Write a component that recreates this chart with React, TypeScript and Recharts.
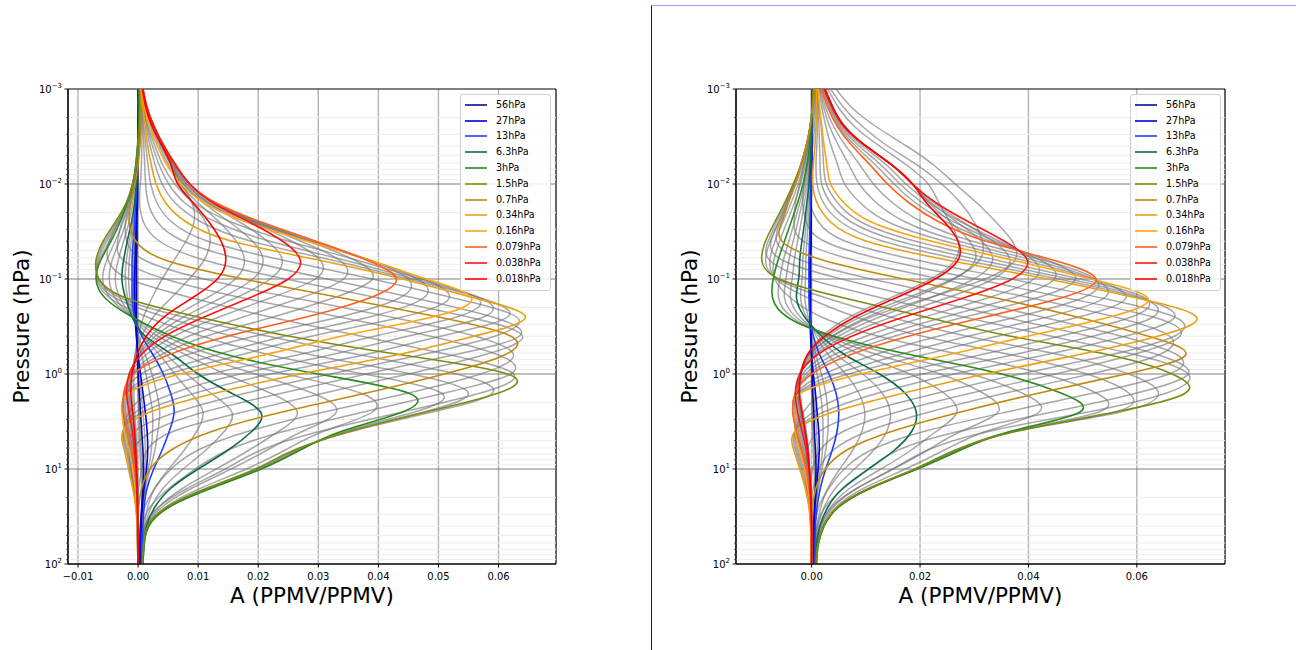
import React from 'react';
import { LineChart, Line, XAxis, YAxis, CartesianGrid, ReferenceLine, ReferenceArea } from 'recharts';

// pressure levels (hPa), 0.2-decade steps from 1e-3 to 1e2
const PRESSURE_LEVELS = [0.001, 0.001585, 0.002512, 0.003981, 0.00631, 0.01, 0.01585, 0.02512, 0.03981, 0.0631, 0.1, 0.1585, 0.2512, 0.3981, 0.631, 1, 1.585, 2.512, 3.981, 6.31, 10, 15.85, 25.12, 39.81, 63.1, 100];
const MAJOR_PRESSURE_TICKS = [0.001, 0.01, 0.1, 1, 10, 100];
const MAJOR_TICK_EXPONENTS = ['\u22123', '\u22122', '\u22121', '0', '1', '2'];
const MINOR_MULTIPLIERS = [2, 3, 4, 5, 6, 7, 8, 9];

const LEFT_X_TICKS = [-0.01, 0, 0.01, 0.02, 0.03, 0.04, 0.05, 0.06];
const RIGHT_X_TICKS = [0, 0.02, 0.04, 0.06];
const LEFT_X_DOMAIN = [-0.01167, 0.06957];
const RIGHT_X_DOMAIN = [-0.01396, 0.07627];

const LEGEND_LABELS = ['56hPa', '27hPa', '13hPa', '6.3hPa', '3hPa', '1.5hPa', '0.7hPa', '0.34hPa', '0.16hPa', '0.079hPa', '0.038hPa', '0.018hPa'];
const LEGEND_COLORS = ['#0a0a9a', '#0000e0', '#2040f8', '#0c6b4f', '#2a8c1e', '#7f8a10', '#bf8a10', '#e8a010', '#ffa510', '#ff6020', '#ff1515', '#ff0000'];

// ---- left panel: highlighted kernels, values in units of 1e-3 PPMV/PPMV, one per pressure level ----
const L_56 = [0.0, 0.0, 0.0, 0.0, -0.1, -0.1, -0.1, -0.2, -0.2, -0.3, -0.3, -0.3, -0.3, -0.2, -0.1, 0.0, 0.2, 0.4, 0.6, 0.8, 0.9, 0.8, 0.6, 0.4, 0.3, 0.2];
const L_27 = [0.1, 0.1, 0.0, 0.0, -0.1, -0.1, -0.2, -0.3, -0.4, -0.5, -0.6, -0.6, -0.5, -0.3, 0.0, 0.4, 0.8, 1.2, 1.5, 1.6, 1.4, 1.0, 0.7, 0.5, 0.4, 0.3];
const L_13 = [0.1, 0.1, 0.1, 0.0, -0.1, -0.2, -0.4, -0.6, -0.8, -1.0, -1.0, -1.0, -0.6, 0.6, 2.5, 4.2, 5.4, 6.0, 5.2, 4.0, 2.6, 1.5, 1.0, 0.8, 0.7, 0.6];
const L_6p3 = [0.1, 0.1, 0.1, 0.0, -0.1, -0.3, -0.6, -1.1, -1.8, -2.4, -2.7, -2.1, -1.0, 1.2, 5.8, 10.0, 15.5, 20.4, 19.0, 15.0, 10.0, 5.5, 2.8, 1.4, 0.9, 0.7];
const L_3 = [0.2, 0.2, 0.1, -0.1, -0.4, -0.9, -1.8, -3.0, -4.5, -6.2, -7.0, -5.5, -1.0, 5.5, 15.0, 30.0, 45.0, 44.0, 34.0, 27.0, 20.5, 12.3, 5.2, 1.8, 1.0, 0.8];
const L_1p5 = [0.3, 0.3, 0.2, 0.0, -0.3, -0.9, -2.0, -3.8, -5.8, -7.0, -6.5, -2.0, 10.0, 25.0, 44.0, 61.5, 60.0, 48.0, 35.5, 26.0, 19.5, 11.5, 4.8, 1.6, 0.9, 0.7];
const L_0p7 = [0.4, 0.5, 0.5, 0.3, 0.0, -0.5, -1.2, -1.5, -0.4, 4.5, 17.5, 34.0, 50.0, 62.0, 61.0, 51.0, 38.0, 24.0, 12.5, 5.5, 2.0, 0.6, 0.1, -0.1, -0.1, 0.0];
const L_0p34 = [0.5, 0.8, 1.2, 1.6, 2.2, 3.0, 4.6, 8.0, 15.5, 30.0, 44.0, 56.0, 64.5, 56.0, 43.0, 27.0, 13.0, 2.0, -2.5, -2.3, -1.6, -0.9, -0.4, -0.15, -0.05, 0.0];
const L_0p16 = [0.6, 1.1, 1.9, 3.2, 4.8, 7.2, 11.0, 18.0, 28.0, 38.5, 48.0, 55.5, 49.0, 34.0, 21.0, 7.0, -1.5, -2.7, -2.3, -1.5, -0.9, -0.5, -0.25, -0.1, 0.0, 0.0];
const L_0p079 = [0.8, 1.5, 2.7, 4.3, 6.3, 8.6, 13.0, 20.5, 29.5, 38.0, 43.0, 38.5, 28.0, 15.0, 5.0, -0.8, -2.4, -2.4, -1.7, -1.0, -0.55, -0.3, -0.15, -0.05, 0.0, 0.0];
const L_0p038 = [0.8, 1.5, 2.7, 4.3, 6.2, 8.6, 12.5, 18.5, 24.0, 27.0, 25.0, 18.5, 11.0, 4.5, 0.5, -1.5, -1.9, -1.5, -1.0, -0.6, -0.35, -0.2, -0.1, -0.05, 0.0, 0.0];
const L_0p018 = [0.7, 1.3, 2.4, 4.0, 5.5, 6.6, 9.2, 11.8, 13.8, 14.6, 13.2, 9.0, 4.3, 1.4, -0.2, -1.0, -1.2, -0.9, -0.6, -0.4, -0.25, -0.15, -0.1, -0.05, 0.0, 0.0];

// ---- left panel: remaining kernels (grey), top to bottom ----
const LG_A1 = [0.7, 1.3, 2.4, 3.9, 5.5, 7.2, 9.0, 9.3, 8.0, 6.0, 4.0, 2.3, 0.9, 0.0, -0.5, -0.7, -0.7, -0.55, -0.35, -0.2, -0.12, -0.06, -0.03, 0.0, 0.0, 0.0];
const LG_A2 = [0.7, 1.3, 2.4, 4.0, 5.5, 6.8, 9.0, 11.2, 12.0, 11.0, 8.5, 5.5, 2.5, 0.6, -0.5, -1.0, -1.0, -0.8, -0.5, -0.3, -0.2, -0.1, -0.05, 0.0, 0.0, 0.0];
const LG_B1 = [0.72, 1.35, 2.5, 4.1, 5.7, 7.1, 10.0, 13.5, 16.3, 17.7, 16.2, 11.4, 5.9, 2.2, 0.0, -1.1, -1.4, -1.05, -0.7, -0.45, -0.28, -0.16, -0.1, -0.05, 0.0, 0.0];
const LG_B2 = [0.75, 1.4, 2.55, 4.15, 5.85, 7.6, 10.9, 15.2, 19.0, 20.8, 19.1, 13.8, 7.6, 2.9, 0.15, -1.25, -1.55, -1.2, -0.8, -0.5, -0.3, -0.18, -0.1, -0.05, 0.0, 0.0];
const LG_B3 = [0.78, 1.45, 2.6, 4.2, 6.0, 8.1, 11.7, 16.9, 21.5, 24.0, 22.0, 16.2, 9.3, 3.7, 0.3, -1.4, -1.7, -1.35, -0.9, -0.55, -0.32, -0.19, -0.1, -0.05, 0.0, 0.0];
const LG_C1 = [0.8, 1.5, 2.7, 4.3, 6.2, 8.6, 12.6, 19.0, 25.5, 30.3, 29.5, 22.0, 13.5, 6.0, 1.3, -1.3, -2.0, -1.7, -1.2, -0.7, -0.4, -0.22, -0.12, -0.05, 0.0, 0.0];
const LG_C2 = [0.8, 1.5, 2.7, 4.3, 6.25, 8.6, 12.8, 19.5, 27.0, 33.5, 34.2, 27.0, 17.5, 8.5, 2.5, -1.1, -2.15, -2.0, -1.4, -0.8, -0.45, -0.25, -0.13, -0.05, 0.0, 0.0];
const LG_C3 = [0.8, 1.5, 2.7, 4.3, 6.3, 8.6, 12.9, 20.0, 28.3, 36.0, 39.0, 32.5, 22.5, 11.5, 3.7, -0.9, -2.3, -2.2, -1.55, -0.9, -0.5, -0.28, -0.14, -0.05, 0.0, 0.0];
const LG_D1 = [0.75, 1.4, 2.5, 4.0, 5.9, 8.2, 12.5, 19.8, 29.3, 38.5, 45.0, 43.5, 33.5, 19.5, 8.0, 0.5, -2.2, -2.5, -1.85, -1.1, -0.63, -0.35, -0.17, -0.06, 0.0, 0.0];
const LG_D2 = [0.7, 1.3, 2.3, 3.75, 5.5, 7.9, 12.0, 19.3, 28.8, 38.3, 46.5, 47.5, 38.5, 24.5, 13.0, 3.1, -2.0, -2.55, -2.0, -1.25, -0.72, -0.4, -0.2, -0.08, 0.0, 0.0];
const LG_D3 = [0.65, 1.2, 2.1, 3.5, 5.1, 7.5, 11.5, 18.7, 28.4, 38.4, 47.5, 51.8, 44.0, 29.0, 17.0, 5.0, -1.75, -2.6, -2.15, -1.4, -0.8, -0.45, -0.22, -0.09, 0.0, 0.0];
const LG_E1 = [0.58, 1.0, 1.7, 2.8, 4.1, 6.1, 9.4, 15.5, 24.9, 36.4, 47.0, 56.5, 53.0, 39.5, 26.5, 12.0, 2.1, -1.5, -2.4, -1.7, -1.1, -0.6, -0.3, -0.11, -0.02, 0.0];
const LG_E2 = [0.55, 0.95, 1.55, 2.4, 3.5, 5.1, 7.8, 13.0, 21.8, 34.3, 46.0, 57.0, 57.5, 45.0, 32.0, 17.0, 6.0, -0.4, -2.5, -1.9, -1.25, -0.7, -0.32, -0.12, -0.03, 0.0];
const LG_E3 = [0.52, 0.88, 1.38, 2.0, 2.85, 4.0, 6.2, 10.5, 18.7, 32.2, 45.0, 57.0, 61.5, 50.5, 37.5, 22.0, 9.5, 0.8, -2.5, -2.1, -1.4, -0.8, -0.35, -0.13, -0.04, 0.0];
const LG_F1 = [0.48, 0.72, 1.0, 1.28, 1.65, 2.1, 3.15, 5.6, 11.5, 24.0, 39.0, 52.5, 63.0, 59.5, 47.0, 32.0, 18.0, 6.5, -0.5, -1.5, -1.2, -0.7, -0.3, -0.14, -0.06, 0.0];
const LG_F2 = [0.45, 0.65, 0.85, 0.95, 1.1, 1.25, 1.7, 3.2, 7.5, 17.5, 31.5, 46.0, 59.0, 63.5, 52.5, 38.0, 24.0, 11.0, 2.5, -0.8, -0.6, -0.3, -0.15, -0.12, -0.08, 0.0];
const LG_F3 = [0.42, 0.58, 0.68, 0.63, 0.55, 0.38, 0.25, 0.9, 3.5, 11.0, 24.5, 40.0, 55.0, 64.0, 57.5, 45.0, 31.0, 17.5, 6.0, 1.5, 0.6, 0.1, 0.0, -0.1, -0.1, 0.0];
const LG_G1 = [0.38, 0.45, 0.43, 0.23, -0.08, -0.6, -1.4, -2.1, -1.9, 1.0, 11.0, 26.0, 42.0, 56.0, 62.5, 57.0, 45.0, 31.0, 18.5, 10.0, 5.5, 2.8, 1.1, 0.35, 0.2, 0.15];
const LG_G2 = [0.35, 0.4, 0.35, 0.15, -0.15, -0.7, -1.6, -2.7, -3.4, -2.5, 4.5, 17.5, 33.5, 48.5, 60.0, 62.0, 51.0, 37.5, 24.5, 15.0, 9.5, 5.2, 2.0, 0.7, 0.4, 0.3];
const LG_G3 = [0.32, 0.35, 0.28, 0.08, -0.22, -0.8, -1.8, -3.3, -4.8, -5.0, -1.5, 9.0, 22.0, 37.0, 52.0, 62.5, 57.0, 44.0, 30.5, 20.5, 14.5, 8.3, 3.4, 1.1, 0.6, 0.5];
const LG_H1 = [0.28, 0.27, 0.18, -0.02, -0.32, -0.9, -1.95, -3.6, -5.5, -6.8, -6.6, -2.9, 7.5, 21.5, 37.0, 53.0, 59.0, 49.0, 35.8, 26.2, 19.8, 11.7, 4.9, 1.65, 0.93, 0.73];
const LG_H2 = [0.25, 0.25, 0.15, -0.05, -0.35, -0.9, -1.9, -3.4, -5.2, -6.6, -6.75, -3.8, 4.5, 15.5, 29.0, 45.5, 55.0, 47.5, 35.0, 26.5, 20.0, 11.9, 5.0, 1.7, 0.95, 0.75];
const LG_H3 = [0.22, 0.22, 0.12, -0.08, -0.38, -0.9, -1.85, -3.2, -4.8, -6.4, -6.9, -4.7, 1.5, 10.5, 22.0, 37.5, 50.5, 46.0, 34.5, 26.8, 20.3, 12.1, 5.1, 1.75, 0.98, 0.78];
const LG_I1 = [0.18, 0.18, 0.1, -0.08, -0.33, -0.75, -1.5, -2.5, -3.8, -5.2, -5.9, -4.6, -1.0, 4.5, 12.5, 24.5, 37.0, 39.0, 31.0, 24.5, 18.0, 10.5, 4.6, 1.7, 1.0, 0.8];
const LG_I2 = [0.15, 0.15, 0.1, -0.05, -0.25, -0.6, -1.2, -2.0, -3.1, -4.3, -4.8, -3.8, -1.0, 3.2, 10.0, 19.5, 29.0, 33.0, 27.5, 21.5, 15.5, 9.0, 4.0, 1.6, 0.95, 0.75];
const LG_I3 = [0.12, 0.12, 0.1, -0.02, -0.18, -0.45, -0.9, -1.5, -2.4, -3.3, -3.8, -3.0, -1.0, 2.2, 8.0, 14.5, 22.0, 26.5, 23.5, 18.5, 13.0, 7.5, 3.5, 1.5, 0.9, 0.72];
const LG_J1 = [0.1, 0.1, 0.1, 0.0, -0.1, -0.27, -0.53, -0.93, -1.47, -1.93, -2.13, -1.73, -0.87, 1.0, 4.7, 8.1, 12.1, 15.6, 14.4, 11.3, 7.5, 4.2, 2.2, 1.2, 0.83, 0.67];
const LG_J2 = [0.1, 0.1, 0.1, 0.0, -0.1, -0.23, -0.47, -0.77, -1.13, -1.47, -1.57, -1.37, -0.73, 0.8, 3.6, 6.1, 8.8, 10.8, 9.8, 7.7, 5.1, 2.8, 1.6, 1.0, 0.77, 0.63];
const LG_K1 = [0.1, 0.1, 0.05, 0.0, -0.1, -0.15, -0.3, -0.45, -0.6, -0.75, -0.8, -0.8, -0.55, 0.1, 1.2, 2.3, 3.1, 3.6, 3.3, 2.8, 2.0, 1.25, 0.85, 0.65, 0.55, 0.45];
const LG_K2 = [0.1, 0.1, 0.03, 0.0, -0.1, -0.12, -0.25, -0.38, -0.5, -0.62, -0.7, -0.7, -0.52, -0.1, 0.6, 1.3, 1.9, 2.4, 2.4, 2.2, 1.7, 1.1, 0.78, 0.58, 0.48, 0.38];
const LG_L1 = [0.05, 0.05, 0.0, 0.0, -0.1, -0.1, -0.15, -0.25, -0.3, -0.4, -0.45, -0.45, -0.4, -0.25, -0.05, 0.2, 0.5, 0.8, 1.05, 1.2, 1.15, 0.9, 0.65, 0.45, 0.35, 0.25];
const LG_M1 = [0.0, 0.0, 0.0, 0.0, -0.05, -0.1, -0.1, -0.15, -0.15, -0.2, -0.2, -0.2, -0.2, -0.15, -0.1, -0.05, 0.05, 0.2, 0.35, 0.5, 0.65, 0.75, 0.65, 0.45, 0.3, 0.2];
const LG_M2 = [0.0, 0.0, 0.0, 0.0, 0.0, -0.05, -0.05, -0.1, -0.1, -0.15, -0.15, -0.15, -0.15, -0.1, -0.1, -0.05, 0.0, 0.1, 0.2, 0.3, 0.45, 0.55, 0.6, 0.5, 0.35, 0.25];

// ---- right panel: highlighted kernels ----
const R_56 = [0.0, 0.0, 0.0, 0.0, 0.0, 0.0, -0.1, -0.1, -0.1, -0.2, -0.2, -0.2, -0.2, -0.1, 0.0, 0.1, 0.2, 0.4, 0.5, 0.7, 0.8, 0.7, 0.5, 0.4, 0.3, 0.2];
const R_27 = [0.1, 0.1, 0.0, 0.0, 0.0, -0.1, -0.1, -0.2, -0.2, -0.3, -0.3, -0.3, -0.3, -0.2, 0.0, 0.3, 0.7, 1.0, 1.3, 1.4, 1.2, 0.9, 0.6, 0.5, 0.4, 0.3];
const R_13 = [0.1, 0.1, 0.0, 0.0, -0.1, -0.1, -0.2, -0.3, -0.4, -0.5, -0.5, -0.5, -0.3, 0.3, 1.5, 3.2, 4.5, 5.0, 4.7, 3.8, 2.6, 1.6, 1.0, 0.7, 0.6, 0.5];
const R_6p3 = [0.1, 0.1, 0.0, -0.1, -0.3, -0.5, -0.9, -1.3, -1.8, -2.2, -2.4, -2.8, -1.3, 1.8, 6.2, 12.5, 17.2, 19.3, 18.5, 15.3, 10.5, 5.8, 3.0, 1.5, 0.9, 0.7];
const R_3 = [0.2, 0.1, -0.1, -0.4, -0.9, -1.6, -2.6, -3.8, -5.0, -6.2, -7.1, -7.2, -4.5, 4.0, 18.5, 35.0, 46.0, 49.5, 37.0, 27.5, 19.5, 11.0, 5.0, 2.3, 1.2, 0.9];
const R_1p5 = [0.3, 0.1, -0.3, -1.0, -2.0, -3.4, -5.0, -6.8, -8.5, -9.2, -6.0, 6.0, 21.0, 36.5, 55.0, 66.5, 69.0, 56.0, 38.0, 26.5, 19.0, 10.7, 4.8, 2.2, 1.1, 0.8];
const R_0p7 = [0.6, 0.2, -0.3, -1.0, -2.0, -3.0, -4.3, -5.5, -5.5, 2.0, 17.0, 34.0, 49.0, 62.0, 69.0, 58.0, 42.0, 27.5, 15.0, 6.5, 2.5, 0.8, 0.2, 0.0, 0.0, 0.0];
const R_0p34 = [0.9, 0.9, 0.8, 0.6, 0.3, 0.2, 1.0, 3.5, 10.0, 25.0, 43.5, 60.0, 71.0, 64.0, 49.0, 32.0, 17.0, 4.0, -3.0, -3.3, -2.2, -1.2, -0.5, -0.2, -0.1, 0.0];
const R_0p16 = [1.2, 1.5, 1.9, 2.3, 2.8, 3.5, 6.0, 11.0, 22.0, 37.0, 51.5, 62.0, 55.0, 40.0, 25.0, 9.0, -2.0, -3.3, -3.0, -2.2, -1.3, -0.7, -0.3, -0.1, 0.0, 0.0];
const R_0p079 = [1.8, 3.0, 4.8, 7.5, 10.8, 14.0, 18.0, 23.5, 32.0, 44.5, 52.5, 46.0, 32.0, 18.0, 7.0, 0.0, -3.0, -3.5, -2.8, -1.8, -1.0, -0.5, -0.2, -0.1, 0.0, 0.0];
const R_0p038 = [2.3, 3.8, 6.0, 10.0, 14.8, 18.6, 23.0, 29.0, 35.5, 39.8, 37.0, 28.0, 17.0, 7.5, 1.0, -2.2, -3.0, -2.6, -1.8, -1.0, -0.5, -0.25, -0.1, 0.0, 0.0, 0.0];
const R_0p018 = [2.5, 4.0, 6.2, 10.0, 14.8, 18.6, 21.2, 24.5, 27.0, 27.0, 22.8, 15.5, 8.0, 2.5, -0.8, -2.0, -2.3, -1.8, -1.2, -0.7, -0.4, -0.2, -0.1, 0.0, 0.0, 0.0];

// ---- right panel: remaining kernels (grey), top to bottom ----
const RG_A1 = [4.5, 7.5, 12.0, 17.5, 22.5, 26.5, 30.5, 34.0, 37.0, 37.5, 32.0, 21.5, 11.0, 4.0, -0.5, -2.2, -2.6, -2.0, -1.3, -0.8, -0.45, -0.2, -0.1, 0.0, 0.0, 0.0];
const RG_A2 = [3.5, 6.0, 9.5, 14.0, 19.5, 24.0, 27.5, 30.0, 31.5, 31.0, 26.0, 17.5, 9.0, 3.0, -0.6, -2.0, -2.3, -1.8, -1.2, -0.7, -0.4, -0.2, -0.1, 0.0, 0.0, 0.0];
const RG_A3 = [3.0, 5.0, 8.0, 12.5, 17.5, 21.5, 23.5, 25.5, 27.0, 26.5, 22.0, 14.5, 7.0, 2.0, -0.8, -1.9, -2.1, -1.6, -1.0, -0.6, -0.35, -0.15, -0.05, 0.0, 0.0, 0.0];
const RG_B1 = [2.45, 3.95, 6.15, 10.0, 14.8, 18.6, 21.7, 25.6, 29.1, 30.2, 26.3, 18.6, 10.3, 3.8, -0.35, -2.05, -2.5, -2.0, -1.35, -0.8, -0.43, -0.21, -0.1, 0.0, 0.0, 0.0];
const RG_B2 = [2.4, 3.9, 6.1, 10.0, 14.8, 18.6, 22.1, 26.8, 31.3, 33.4, 29.9, 21.8, 12.5, 5.0, 0.1, -2.1, -2.65, -2.2, -1.5, -0.85, -0.45, -0.23, -0.1, 0.0, 0.0, 0.0];
const RG_B3 = [2.35, 3.85, 6.05, 10.0, 14.8, 18.6, 22.6, 27.9, 33.4, 36.6, 33.5, 24.9, 14.8, 6.3, 0.55, -2.15, -2.85, -2.4, -1.65, -0.95, -0.48, -0.24, -0.1, 0.0, 0.0, 0.0];
const RG_C1 = [2.2, 3.6, 5.7, 9.4, 13.8, 17.4, 21.8, 27.6, 34.6, 40.9, 41.0, 32.5, 20.8, 10.1, 2.5, -1.65, -3.0, -2.8, -2.05, -1.2, -0.63, -0.31, -0.13, 0.0, 0.0, 0.0];
const RG_C2 = [2.05, 3.4, 5.4, 8.75, 12.8, 16.3, 20.5, 26.3, 33.8, 42.2, 44.8, 37.0, 24.5, 12.8, 4.0, -1.1, -3.0, -3.05, -2.3, -1.4, -0.75, -0.38, -0.15, -0.05, 0.0, 0.0];
const RG_C3 = [1.9, 3.2, 5.1, 8.1, 11.8, 15.2, 19.2, 24.9, 32.9, 43.3, 48.7, 41.5, 28.2, 15.4, 5.5, -0.55, -3.0, -3.3, -2.55, -1.6, -0.88, -0.44, -0.18, -0.08, 0.0, 0.0];
const RG_D1 = [1.65, 2.6, 4.1, 6.3, 8.9, 11.4, 15.0, 20.4, 29.5, 42.6, 52.3, 50.0, 37.8, 23.5, 11.5, 2.3, -2.75, -3.45, -2.85, -1.9, -1.08, -0.55, -0.23, -0.1, 0.0, 0.0];
const RG_D2 = [1.5, 2.25, 3.35, 5.0, 6.9, 8.8, 12.0, 17.3, 27.0, 40.8, 52.0, 54.0, 43.5, 29.0, 16.0, 4.5, -2.5, -3.4, -2.9, -2.0, -1.15, -0.6, -0.25, -0.1, 0.0, 0.0];
const RG_D3 = [1.35, 1.9, 2.65, 3.6, 4.8, 6.1, 9.0, 14.1, 24.5, 38.9, 51.8, 58.0, 49.3, 34.5, 20.5, 6.8, -2.25, -3.35, -2.95, -2.1, -1.23, -0.65, -0.28, -0.1, 0.0, 0.0];
const RG_E1 = [1.1, 1.35, 1.75, 2.0, 2.2, 2.7, 4.8, 9.1, 19.0, 34.0, 49.5, 61.5, 59.0, 46.0, 31.0, 14.8, 2.8, -1.5, -3.0, -2.5, -1.5, -0.8, -0.35, -0.13, -0.03, 0.0];
const RG_E2 = [1.05, 1.2, 1.35, 1.45, 1.55, 1.85, 3.5, 7.3, 16.0, 31.0, 47.5, 61.0, 63.0, 52.0, 37.0, 20.5, 7.5, 0.3, -3.0, -2.75, -1.75, -0.95, -0.4, -0.15, -0.05, 0.0];
const RG_E3 = [0.98, 1.05, 1.05, 0.95, 0.8, 1.0, 2.2, 5.4, 13.0, 28.0, 45.5, 60.5, 67.0, 58.0, 43.0, 26.3, 12.3, 2.2, -3.0, -3.0, -2.0, -1.1, -0.45, -0.18, -0.08, 0.0];
const RG_F1 = [0.83, 0.73, 0.53, 0.2, -0.28, -0.6, -0.3, 1.25, 6.1, 19.3, 36.8, 53.5, 67.0, 67.0, 55.0, 38.5, 23.3, 9.9, 1.5, -0.8, -1.0, -0.7, -0.3, -0.15, -0.08, 0.0];
const RG_F2 = [0.75, 0.55, 0.25, -0.2, -0.85, -1.4, -1.65, -1.0, 2.25, 13.5, 30.3, 47.0, 63.0, 68.0, 59.0, 45.0, 29.5, 15.8, 6.0, 1.6, 0.15, -0.2, -0.15, -0.1, -0.05, 0.0];
const RG_F3 = [0.68, 0.38, -0.03, -0.6, -1.43, -2.2, -2.98, -3.25, -1.6, 7.75, 23.7, 40.5, 56.0, 66.0, 64.0, 51.5, 35.8, 21.7, 10.5, 4.0, 1.3, 0.3, 0.03, -0.05, -0.02, 0.0];
const RG_G1 = [0.53, 0.18, -0.3, -1.0, -2.0, -3.1, -4.5, -5.8, -6.5, -2.0, 11.0, 27.0, 42.5, 57.0, 67.5, 66.0, 52.0, 36.0, 21.0, 11.0, 6.0, 3.2, 1.3, 0.55, 0.28, 0.2];
const RG_G2 = [0.45, 0.15, -0.3, -1.0, -2.0, -3.2, -4.65, -6.15, -7.5, -5.5, 5.5, 20.0, 35.5, 51.0, 64.0, 69.5, 60.0, 44.5, 27.5, 16.0, 10.5, 6.0, 2.5, 1.0, 0.5, 0.4];
const RG_G3 = [0.38, 0.12, -0.3, -1.0, -2.0, -3.3, -4.8, -6.5, -8.0, -7.8, -0.5, 13.0, 28.0, 44.0, 60.0, 69.5, 65.5, 51.0, 33.0, 21.5, 15.0, 8.5, 3.7, 1.6, 0.8, 0.6];
const RG_H1 = [0.28, 0.1, -0.25, -0.85, -1.7, -2.95, -4.4, -6.0, -7.6, -8.5, -6.3, 2.7, 14.5, 28.5, 46.0, 58.5, 64.0, 57.0, 37.8, 26.8, 19.1, 10.8, 4.85, 2.2, 1.1, 0.8];
const RG_H2 = [0.25, 0.1, -0.2, -0.7, -1.45, -2.5, -3.8, -5.3, -6.75, -7.7, -6.55, -0.6, 8.2, 20.3, 37.0, 50.8, 58.5, 56.0, 37.5, 27.0, 19.3, 10.9, 4.9, 2.25, 1.15, 0.85];
const RG_H3 = [0.22, 0.1, -0.15, -0.55, -1.2, -2.05, -3.2, -4.55, -5.9, -6.95, -6.8, -3.9, 1.8, 12.2, 27.8, 42.8, 52.5, 53.0, 37.2, 27.2, 19.4, 10.9, 4.95, 2.3, 1.2, 0.9];
const RG_I1 = [0.18, 0.1, -0.08, -0.33, -0.75, -1.33, -2.18, -3.18, -4.2, -5.2, -5.9, -6.1, -3.7, 3.5, 15.4, 29.4, 38.8, 42.0, 32.4, 24.5, 17.3, 9.7, 4.5, 2.1, 1.1, 0.85];
const RG_I2 = [0.15, 0.1, -0.05, -0.25, -0.6, -1.05, -1.75, -2.55, -3.4, -4.2, -4.75, -5.0, -2.9, 2.9, 12.3, 23.7, 31.6, 34.4, 27.7, 21.4, 15.0, 8.4, 4.0, 1.9, 1.05, 0.8];
const RG_I3 = [0.12, 0.1, -0.03, -0.18, -0.45, -0.78, -1.33, -1.93, -2.6, -3.2, -3.6, -3.9, -2.1, 2.4, 9.3, 18.1, 24.4, 26.8, 23.1, 18.4, 12.8, 7.1, 3.5, 1.7, 1.0, 0.75];
const RG_J1 = [0.1, 0.1, 0.0, -0.07, -0.23, -0.37, -0.67, -0.97, -1.33, -1.63, -1.77, -2.03, -0.97, 1.3, 4.6, 9.4, 13.0, 14.5, 13.9, 11.5, 7.9, 4.4, 2.3, 1.2, 0.8, 0.63];
const RG_J2 = [0.1, 0.1, 0.0, -0.03, -0.17, -0.23, -0.43, -0.63, -0.87, -1.07, -1.13, -1.27, -0.63, 0.8, 3.1, 6.3, 8.7, 9.8, 9.3, 7.6, 5.2, 3.0, 1.7, 1.0, 0.7, 0.57];
const RG_K1 = [0.1, 0.1, 0.0, 0.0, -0.05, -0.1, -0.15, -0.25, -0.3, -0.4, -0.4, -0.4, -0.3, 0.05, 0.8, 1.8, 2.6, 3.0, 3.0, 2.6, 1.9, 1.25, 0.8, 0.6, 0.5, 0.4];
const RG_K2 = [0.1, 0.1, 0.0, 0.0, -0.03, -0.1, -0.12, -0.22, -0.25, -0.35, -0.35, -0.35, -0.3, -0.1, 0.4, 1.0, 1.6, 2.0, 2.1, 2.0, 1.6, 1.1, 0.7, 0.55, 0.45, 0.35];
const RG_L1 = [0.05, 0.05, 0.0, 0.0, 0.0, -0.05, -0.1, -0.15, -0.15, -0.25, -0.25, -0.25, -0.25, -0.15, 0.0, 0.2, 0.45, 0.7, 0.9, 1.05, 1.0, 0.8, 0.55, 0.45, 0.35, 0.25];
const RG_M1 = [0.0, 0.0, 0.0, 0.0, -0.05, -0.1, -0.1, -0.15, -0.15, -0.2, -0.2, -0.2, -0.2, -0.15, -0.1, -0.05, 0.05, 0.2, 0.35, 0.5, 0.65, 0.75, 0.65, 0.45, 0.3, 0.2];
const RG_M2 = [0.0, 0.0, 0.0, 0.0, 0.0, -0.05, -0.05, -0.1, -0.1, -0.15, -0.15, -0.15, -0.15, -0.1, -0.1, -0.05, 0.0, 0.1, 0.2, 0.3, 0.45, 0.55, 0.6, 0.5, 0.35, 0.25];

const LEFT_COLORED = [L_56, L_27, L_13, L_6p3, L_3, L_1p5, L_0p7, L_0p34, L_0p16, L_0p079, L_0p038, L_0p018];
const RIGHT_COLORED = [R_56, R_27, R_13, R_6p3, R_3, R_1p5, R_0p7, R_0p34, R_0p16, R_0p079, R_0p038, R_0p018];
const LEFT_GRAY = [LG_A1, LG_A2, LG_B1, LG_B2, LG_B3, LG_C1, LG_C2, LG_C3, LG_D1, LG_D2, LG_D3, LG_E1, LG_E2, LG_E3, LG_F1, LG_F2, LG_F3, LG_G1, LG_G2, LG_G3, LG_H1, LG_H2, LG_H3, LG_I1, LG_I2, LG_I3, LG_J1, LG_J2, LG_K1, LG_K2, LG_L1, LG_M1, LG_M2];
const RIGHT_GRAY = [RG_A1, RG_A2, RG_A3, RG_B1, RG_B2, RG_B3, RG_C1, RG_C2, RG_C3, RG_D1, RG_D2, RG_D3, RG_E1, RG_E2, RG_E3, RG_F1, RG_F2, RG_F3, RG_G1, RG_G2, RG_G3, RG_H1, RG_H2, RG_H3, RG_I1, RG_I2, RG_I3, RG_J1, RG_J2, RG_K1, RG_K2, RG_L1, RG_M1, RG_M2];

const FONT = '"DejaVu Sans", Verdana, sans-serif';

const MINOR_PRESSURE_TICKS = MAJOR_PRESSURE_TICKS.slice(0, -1).flatMap((d) => MINOR_MULTIPLIERS.map((m) => +(m * d).toPrecision(3)));
const ALL_Y_TICKS = [...MAJOR_PRESSURE_TICKS, ...MINOR_PRESSURE_TICKS].sort((a, b) => a - b);

function buildRows(series: number[][]) {
  return PRESSURE_LEVELS.map((p, i) => {
    const row: Record<string, number> = { p };
    series.forEach((s, j) => {
      row['k' + j] = s[i] / 1000;
    });
    return row;
  });
}

const fmtX = (v: number) => (v < 0 ? '\u2212' : '') + Math.abs(v).toFixed(2);

const YTick = (props: any) => {
  const { x, y, payload } = props;
  const idx = MAJOR_PRESSURE_TICKS.findIndex((m) => Math.abs(m - payload.value) / m < 1e-6);
  const major = idx >= 0;
  return (
    <g>
      <line x1={x - (major ? 3.5 : 2)} x2={x} y1={y} y2={y} stroke="#000" strokeWidth={major ? 0.9 : 0.6} />
      {major && (
        <text x={x - 6} y={y + 3.6} textAnchor="end" fontFamily={FONT} fontSize={10} fill="#000">
          10
          <tspan fontSize={7} dy={-4.5}>{MAJOR_TICK_EXPONENTS[idx]}</tspan>
        </text>
      )}
    </g>
  );
};

const LegendBox = ({ left }: { left: number }) => (
  <div
    style={{
      position: 'absolute',
      left,
      top: 94,
      border: '1px solid #cfcfcf',
      borderRadius: 3,
      background: 'rgba(255,255,255,0.85)',
      padding: '2px 0 3px 0',
      width: 91,
      boxSizing: 'border-box',
    }}
  >
    {LEGEND_LABELS.map((l, i) => (
      <div key={l} style={{ display: 'flex', alignItems: 'center', height: 15.8 }}>
        <svg width={30} height={10} style={{ display: 'block' }}>
          <line x1={4} x2={26} y1={5} y2={5} stroke={LEGEND_COLORS[i]} strokeWidth={1.6} />
        </svg>
        <span style={{ fontSize: 9.6, fontFamily: FONT, marginLeft: 5, color: '#000', lineHeight: '10px' }}>{l}</span>
      </div>
    ))}
  </div>
);

type PanelProps = {
  left: number;
  xDomain: number[];
  xTicks: number[];
  colored: number[][];
  gray: number[][];
  marginLeft: number;
  marginRight: number;
  legendLeft: number;
};

function Panel({ left, xDomain, xTicks, colored, gray, marginLeft, marginRight, legendLeft }: PanelProps) {
  const rows = buildRows([...gray, ...colored]);
  const nGray = gray.length;
  return (
    <div style={{ position: 'absolute', left, top: 0, width: 648, height: 650 }}>
      <LineChart
        width={648}
        height={650}
        layout="vertical"
        data={rows}
        margin={{ top: 89, right: marginRight, bottom: 56, left: marginLeft }}
      >
        <CartesianGrid horizontal={false} stroke="#b4b4b4" strokeWidth={1.4} />
        {MINOR_PRESSURE_TICKS.map((v) => (
          <ReferenceLine key={'mn' + v} y={v} stroke="#ececec" strokeWidth={1} />
        ))}
        {MAJOR_PRESSURE_TICKS.slice(1, -1).map((v) => (
          <ReferenceLine key={'mj' + v} y={v} stroke="#7c7c7c" strokeWidth={1} />
        ))}
        <XAxis
          type="number"
          domain={xDomain}
          ticks={xTicks}
          allowDataOverflow
          tickFormatter={fmtX}
          tickSize={3.5}
          tickMargin={5}
          height={30}
          interval={0}
          axisLine={{ stroke: '#000' }}
          tickLine={{ stroke: '#000' }}
          tick={{ fontSize: 10, fontFamily: FONT, fill: '#000' }}
          label={{
            content: (p: any) => {
              const vb = p.viewBox || {};
              return (
                <text x={vb.x + vb.width / 2} y={vb.y + 39} textAnchor="middle" fontFamily={FONT} fontSize={21.5} fill="#000">
                  A (PPMV/PPMV)
                </text>
              );
            },
          }}
        />
        <YAxis
          type="number"
          dataKey="p"
          scale="log"
          domain={[0.001, 100]}
          ticks={ALL_Y_TICKS}
          allowDataOverflow
          interval={0}
          width={60}
          tickSize={0}
          tickMargin={0}
          tickLine={false}
          tick={<YTick />}
          axisLine={{ stroke: '#000' }}
          label={{
            content: (p: any) => {
              const vb = p.viewBox || {};
              const cx = vb.x + 21;
              const cy = vb.y + vb.height / 2;
              return (
                <text x={cx} y={cy} transform={`rotate(-90 ${cx} ${cy})`} textAnchor="middle" fontFamily={FONT} fontSize={21.5} fill="#000">
                  Pressure (hPa)
                </text>
              );
            },
          }}
        />
        {gray.map((_, j) => (
          <Line
            key={'g' + j}
            dataKey={'k' + j}
            type="natural"
            dot={false}
            activeDot={false}
            stroke="#727272"
            strokeOpacity={0.62}
            strokeWidth={1.5}
            isAnimationActive={false}
            legendType="none"
          />
        ))}
        {colored.map((_, j) => (
          <Line
            key={'c' + j}
            dataKey={'k' + (nGray + j)}
            type="natural"
            dot={false}
            activeDot={false}
            stroke={LEGEND_COLORS[j]}
            strokeWidth={1.6}
            isAnimationActive={false}
            legendType="none"
          />
        ))}
        <ReferenceArea x1={xDomain[0]} x2={xDomain[1]} y1={0.001} y2={100} fill="none" stroke="#000" strokeWidth={1} ifOverflow="visible" />
      </LineChart>
      <LegendBox left={legendLeft} />
    </div>
  );
}

export default function App() {
  return (
    <div style={{ position: 'absolute', left: 0, top: 0, width: 1296, height: 650, background: '#fff', overflow: 'hidden' }}>
      <div
        style={{
          position: 'absolute',
          left: 651,
          top: 5,
          width: 645,
          height: 645,
          borderLeft: '1px solid #0000ff',
          borderTop: '1px solid #a0a0ff',
          boxSizing: 'border-box',
        }}
      />
      <Panel left={0} xDomain={LEFT_X_DOMAIN} xTicks={LEFT_X_TICKS} colored={LEFT_COLORED} gray={LEFT_GRAY} marginLeft={8} marginRight={92} legendLeft={460} />
      <Panel left={648} xDomain={RIGHT_X_DOMAIN} xTicks={RIGHT_X_TICKS} colored={RIGHT_COLORED} gray={RIGHT_GRAY} marginLeft={28} marginRight={71} legendLeft={482} />
    </div>
  );
}
